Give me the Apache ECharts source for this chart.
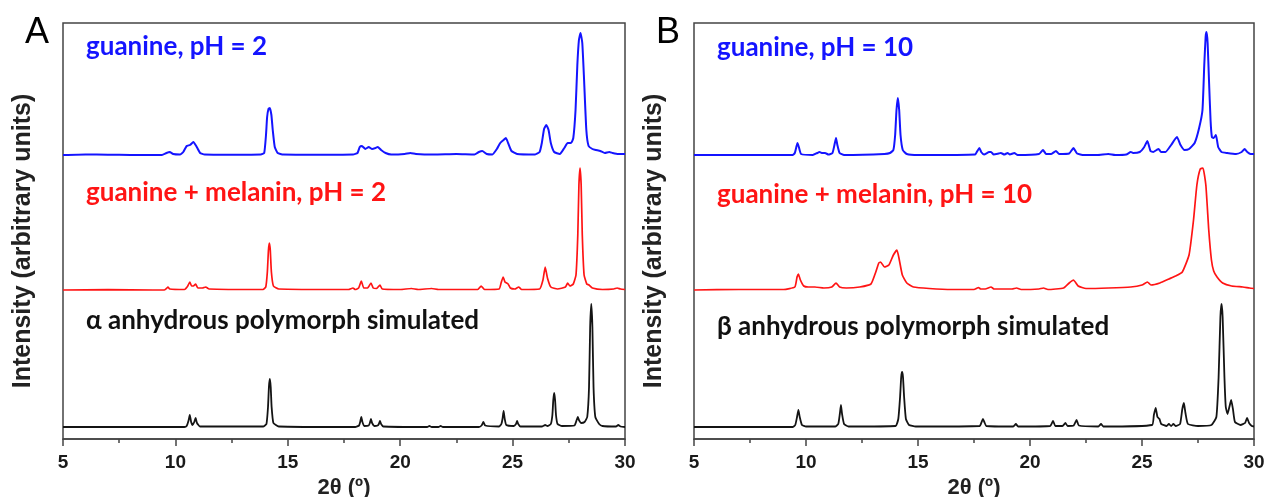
<!DOCTYPE html>
<html>
<head>
<meta charset="utf-8">
<script src="https://cdn.jsdelivr.net/npm/echarts@6/dist/echarts.min.js"></script>
<style>
html,body{margin:0;padding:0;background:#fff;}
#chart{width:1267px;height:497px;}
</style>
</head>
<body>
<div id="chart"></div>
<script>
// ---- data: [2θ (deg), intensity above own baseline (arb. units)] ----
const xTicks = [5, 10, 15, 20, 25, 30];
const panelLetters = ['A', 'B'];
const traceNamesA = ['guanine, pH = 2', 'guanine + melanin, pH = 2', 'α anhydrous polymorph simulated'];
const traceNamesB = ['guanine, pH = 10', 'guanine + melanin, pH = 10', 'β anhydrous polymorph simulated'];
const stackOffsets = [284, 149, 12]; // blue, red, black vertical offsets

const guaninePH2 = [[5,0],[6,0.5],[7,0.3],[8,0],[9.4,0],[9.6,2],[9.75,3],[9.9,1],[10.2,0.5],[10.35,3],[10.5,9],[10.65,10],[10.8,13],[10.95,8],[11.1,2],[11.3,0.5],[12.5,0.3],[13.8,0.5],[13.95,2],[14.03,20],[14.08,38],[14.14,46],[14.2,47],[14.27,40],[14.33,25],[14.42,8],[14.55,2],[14.8,0.5],[16.5,0.3],[17.9,0.5],[18.1,2],[18.2,8],[18.3,9],[18.45,6],[18.6,8],[18.75,6],[18.9,7],[19.0,8],[19.15,5],[19.35,2],[19.6,0.5],[20.2,1],[20.45,2],[20.7,1],[21.5,0.5],[22.5,1],[23.3,0.5],[23.5,3],[23.65,4],[23.85,1],[24.1,0.5],[24.3,6],[24.45,12],[24.6,15],[24.7,17],[24.8,12],[24.95,4],[25.2,1],[26.0,0.5],[26.2,3],[26.3,12],[26.4,26],[26.5,30],[26.6,25],[26.7,12],[26.85,3],[27.1,1],[27.3,7],[27.45,12],[27.6,12],[27.7,17],[27.8,45],[27.88,90],[27.95,115],[28.02,122],[28.1,112],[28.18,75],[28.28,25],[28.38,9],[28.55,6],[28.7,5],[28.9,4],[29.1,2],[29.3,3],[29.45,2],[29.7,1],[30,1]];

const melaninPH2 = [[5,0],[7,0.3],[9,0],[9.5,0],[9.6,1.5],[9.67,3],[9.75,1],[10.4,0.5],[10.55,4],[10.64,8],[10.72,4],[10.8,4],[10.9,6],[11.0,2],[11.2,2],[11.35,3],[11.5,1],[13.9,0.5],[14.02,3],[14.09,18],[14.14,40],[14.18,47],[14.22,40],[14.27,18],[14.36,4],[14.6,1],[17.7,0.5],[17.9,2],[18.0,0.5],[18.15,2],[18.27,9],[18.38,2],[18.55,2],[18.7,7],[18.8,2],[18.95,1.5],[19.1,5],[19.2,1],[20.0,0.5],[20.5,1.5],[20.8,0.5],[21.4,1.5],[21.7,0.5],[23.45,0.5],[23.6,4],[23.75,0.5],[24.4,1],[24.5,8],[24.58,13],[24.66,8],[24.8,6],[24.9,2],[25.1,1],[25.27,3],[25.4,0.5],[26.2,1],[26.35,10],[26.45,23],[26.55,12],[26.7,3],[27.0,1],[27.35,3],[27.45,7],[27.55,4],[27.7,6],[27.82,15],[27.9,55],[27.95,105],[28.0,122],[28.05,105],[28.1,55],[28.18,15],[28.3,6],[28.4,5],[28.55,2],[29.0,0.5],[29.5,1],[29.65,2],[29.8,1],[30,0.5]];

const alphaSimulated = [[5,0],[10.4,0],[10.5,1],[10.58,6],[10.64,12],[10.7,5],[10.76,2],[10.84,5],[10.9,9],[10.96,4],[11.1,0.5],[13.9,0.5],[14.05,3],[14.12,20],[14.16,40],[14.2,48],[14.24,40],[14.28,20],[14.36,4],[14.6,0.5],[18.0,0],[18.17,1.5],[18.22,5],[18.27,10],[18.32,5],[18.4,1],[18.6,1.5],[18.65,4],[18.7,8],[18.75,4],[18.85,1],[19.0,1.5],[19.05,3],[19.1,6],[19.15,3],[19.25,0.5],[21.2,0],[21.3,1],[21.4,0],[21.7,0],[21.8,1],[21.9,0],[23.5,0],[23.62,1.5],[23.7,5],[23.78,1.5],[24.4,0.5],[24.5,3],[24.55,8],[24.6,16],[24.65,8],[24.72,2],[25.05,1],[25.15,3],[25.2,6],[25.25,3],[25.35,0.5],[26.3,0.5],[26.45,2],[26.55,1],[26.7,3],[26.77,12],[26.81,27],[26.85,34],[26.89,27],[26.93,12],[27.0,3],[27.2,1],[27.75,1.5],[27.85,7],[27.9,10],[27.95,7],[28.05,4],[28.2,5],[28.32,10],[28.4,40],[28.45,100],[28.5,123],[28.55,100],[28.6,40],[28.68,10],[28.85,3],[29.0,1],[29.6,0.5],[29.7,2],[29.8,0.5],[30,0]];

const guaninePH10 = [[5,0],[7,0],[9.4,0],[9.5,2],[9.58,9],[9.62,12],[9.68,8],[9.78,1],[10.3,0],[10.5,2],[10.6,3],[10.7,2],[10.85,2],[11.0,0.5],[11.18,2],[11.27,10],[11.34,17],[11.4,10],[11.5,2],[11.7,0],[13.5,1],[13.75,2],[13.9,5],[13.98,20],[14.04,45],[14.1,57],[14.16,45],[14.22,20],[14.32,5],[14.5,1],[15.0,0],[17.55,0.5],[17.65,4],[17.74,7],[17.82,3],[17.95,0.5],[18.18,3],[18.26,3],[18.38,0.5],[18.6,1.5],[18.7,2],[18.85,0.5],[19.0,2],[19.1,0.5],[19.3,2],[19.45,0],[20.4,1],[20.58,5],[20.72,1],[20.95,1],[21.16,4],[21.3,1],[21.75,1.5],[21.94,7],[22.1,1.5],[22.4,0],[23.0,0],[23.5,1],[23.8,0],[24.3,0.5],[24.5,3],[24.6,2],[24.9,3],[25.1,8],[25.24,14],[25.38,4],[25.5,3],[25.65,5],[25.74,6],[25.85,3],[26.05,3],[26.3,10],[26.56,18],[26.72,10],[26.9,5],[27.1,6],[27.35,12],[27.55,27],[27.7,45],[27.78,90],[27.84,118],[27.88,123],[27.93,112],[27.99,75],[28.06,35],[28.12,18],[28.2,17],[28.3,20],[28.4,8],[28.55,3],[28.8,2],[29.2,1],[29.45,3],[29.58,6],[29.7,3],[29.85,1],[30,1]];

const melaninPH10 = [[5,0],[7,0.5],[9.0,0.5],[9.5,3],[9.6,13],[9.66,16],[9.75,10],[9.9,4],[10.1,3],[10.4,3],[10.8,2],[11.15,3],[11.34,7],[11.5,3],[11.8,2],[12.4,3],[12.9,6],[13.1,17],[13.25,27],[13.33,28],[13.5,23],[13.7,25],[13.9,35],[14.06,40],[14.15,32],[14.3,15],[14.5,7],[14.8,3],[15.5,1.5],[16.5,0.5],[17.5,0.5],[17.7,2.5],[17.8,1],[18.0,1],[18.26,3],[18.4,1],[19.2,1],[19.4,2],[19.6,0.5],[20.4,1],[20.6,2],[20.8,0.5],[21.5,2],[21.75,7],[21.94,10],[22.15,4],[22.5,1.5],[23.5,2],[24.5,3],[25.0,5],[25.24,8],[25.4,5],[25.8,7],[26.2,11],[26.5,14],[26.8,18],[27.1,35],[27.3,70],[27.45,105],[27.6,121],[27.72,122],[27.85,105],[27.98,60],[28.1,30],[28.2,19],[28.35,13],[28.6,7],[29.0,4],[29.5,3],[29.8,2],[30,1.5]];

const betaSimulated = [[5,0],[9.4,0],[9.52,2],[9.6,10],[9.66,17],[9.72,10],[9.82,2],[10.0,0.5],[11.3,0.5],[11.44,3],[11.51,13],[11.56,22],[11.61,13],[11.7,3],[11.9,0.5],[14.0,1],[14.12,8],[14.2,30],[14.25,50],[14.29,55],[14.33,50],[14.38,30],[14.46,8],[14.6,2],[14.9,0.5],[17.75,1],[17.84,5],[17.9,8],[17.96,5],[18.05,1],[19.25,0.5],[19.37,3],[19.47,0.5],[20.9,1],[21.03,6],[21.13,1],[21.45,1],[21.58,4],[21.68,1],[21.95,1.5],[22.08,7],[22.18,1.5],[23.05,0.5],[23.17,3],[23.27,0.5],[25.45,2],[25.53,12],[25.61,19],[25.69,10],[25.78,8],[25.86,3],[26.1,1],[26.2,3],[26.3,1],[26.4,3],[26.5,1],[26.7,3],[26.8,18],[26.87,24],[26.94,14],[27.05,3],[27.5,1],[28.1,2],[28.32,10],[28.42,50],[28.5,110],[28.55,123],[28.6,110],[28.68,50],[28.74,20],[28.82,13],[28.9,20],[28.98,27],[29.06,18],[29.15,5],[29.4,2],[29.6,4],[29.69,9],[29.78,4],[29.9,1],[30,0.5]];

// ---- build chart ----
const colors = ['#1414ff', '#ff1414', '#141414'];
const widths = [2, 1.7, 1.8];
const panels = [
  {traces: [guaninePH2, melaninPH2, alphaSimulated], names: traceNamesA},
  {traces: [guaninePH10, melaninPH10, betaSimulated], names: traceNamesB}
];
const grids = [
  {left: 63, right: 642, top: 23, bottom: 58},
  {left: 694, right: 13, top: 23, bottom: 58}
];

const xAxes = [], yAxes = [], series = [];
panels.forEach((p, i) => {
  xAxes.push({
    gridIndex: i, type: 'value', min: xTicks[0], max: xTicks[xTicks.length - 1], interval: 5,
    name: '2θ (º)', nameLocation: 'middle', nameGap: 34,
    nameTextStyle: {fontFamily: 'Liberation Sans', fontWeight: 'bold', fontSize: 22, color: '#222'},
    axisLine: {lineStyle: {color: '#444', width: 1.5}},
    axisTick: {inside: false, length: 7, lineStyle: {color: '#444', width: 1.5}},
    minorTick: {show: true, splitNumber: 2, length: 4, lineStyle: {color: '#444', width: 1.5}},
    axisLabel: {fontFamily: 'Liberation Sans', fontWeight: 'bold', fontSize: 19, color: '#1a1a1a', margin: 14},
    splitLine: {show: false}
  });
  yAxes.push({
    gridIndex: i, type: 'value', min: 0, max: 416,
    name: 'Intensity (arbitrary units)', nameLocation: 'middle', nameGap: 27, nameRotate: 90,
    nameTextStyle: {fontFamily: 'Liberation Sans', fontWeight: 'bold', fontSize: 25, color: '#222', padding: [0, 20, 0, 0]},
    axisLine: {show: false}, axisTick: {show: false}, axisLabel: {show: false}, splitLine: {show: false}
  });
  p.traces.forEach((t, k) => {
    series.push({
      type: 'line', xAxisIndex: i, yAxisIndex: i, name: p.names[k],
      data: t.map(d => [d[0], d[1] + stackOffsets[k]]),
      showSymbol: false, smooth: 0.15,
      lineStyle: {color: colors[k], width: widths[k]},
      itemStyle: {color: colors[k]}
    });
  });
});

const labelTop = [[50, 196, 324], [51, 198, 330]];
const labelLeft = [86, 717];
const graphics = [];
panels.forEach((p, i) => {
  p.names.forEach((n, k) => {
    graphics.push({
      type: 'text', left: labelLeft[i], top: labelTop[i][k] - 16,
      style: {text: n, fill: colors[k] === '#141414' ? '#111' : colors[k], font: 'bold 26px Lato'}
    });
  });
});
graphics.push({type: 'text', left: 25, top: 15, style: {text: panelLetters[0], fill: '#000', font: '36px "Liberation Sans"'}});
graphics.push({type: 'text', left: 656, top: 15, style: {text: panelLetters[1], fill: '#000', font: '36px "Liberation Sans"'}});

const chart = echarts.init(document.getElementById('chart'));
chart.setOption({
  animation: false,
  grid: grids.map(g => Object.assign({show: true, borderColor: '#444', borderWidth: 1.5, backgroundColor: 'transparent', outerBoundsMode: 'none', containLabel: false}, g)),
  xAxis: xAxes,
  yAxis: yAxes,
  series: series,
  graphic: graphics
});
</script>
</body>
</html>
